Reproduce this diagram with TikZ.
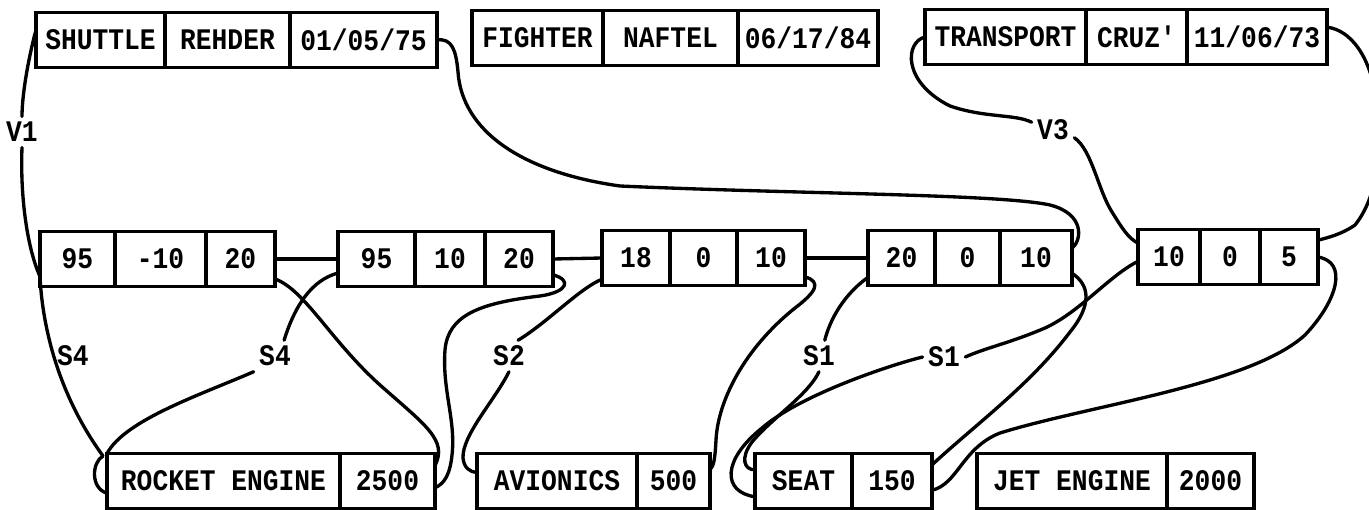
\documentclass[tikz,border=0pt]{standalone}
\usepackage{fontspec}
\newfontfamily\recfont{Liberation Mono}[FakeStretch=0.88]
\usetikzlibrary{positioning}

\begin{document}
\begin{tikzpicture}[x=0.02cm,y=-0.02cm,cell/.style={draw,line width=1.8pt,minimum width=#1*0.02cm,minimum height=1.1cm,inner sep=0pt,outer sep=0pt,font=\recfont\bfseries\fontsize{17}{19}\selectfont},tag/.style={inner sep=3pt,font=\recfont\bfseries\fontsize{17}{19}\selectfont},wire/.style={line width=1.9pt,line cap=round,line join=round}]
\useasboundingbox (0,0) rectangle (1369,510);
\node[cell=129,anchor=west] (shA) at (36,40) {SHUTTLE};
\node[cell=125,right=0pt of shA] (shB) {REHDER};
\node[cell=147,right=0pt of shB] (shC) {01/05/75};
\node[cell=131,anchor=west] (fiA) at (472,38) {FIGHTER};
\node[cell=135,right=0pt of fiA] (fiB) {NAFTEL};
\node[cell=140,right=0pt of fiB] (fiC) {06/17/84};
\node[cell=161,anchor=west] (trA) at (925,37) {TRANSPORT};
\node[cell=101,right=0pt of trA] (trB) {CRUZ'};
\node[cell=140,right=0pt of trB] (trC) {11/06/73};
\node[cell=75,anchor=west] (m1a) at (40,259) {95};
\node[cell=91,right=0pt of m1a] (m1b) {-10};
\node[cell=69,right=0pt of m1b] (m1c) {20};
\node[cell=77,anchor=west] (m2a) at (338,259) {95};
\node[cell=70,right=0pt of m2a] (m2b) {10};
\node[cell=68,right=0pt of m2b] (m2c) {20};
\node[cell=68,anchor=west] (m3a) at (602,258) {18};
\node[cell=67,right=0pt of m3a] (m3b) {0};
\node[cell=68,right=0pt of m3b] (m3c) {10};
\node[cell=67,anchor=west] (m4a) at (868,258) {20};
\node[cell=65,right=0pt of m4a] (m4b) {0};
\node[cell=72,right=0pt of m4b] (m4c) {10};
\node[cell=62,anchor=west] (m5a) at (1138,257) {10};
\node[cell=60,right=0pt of m5a] (m5b) {0};
\node[cell=58,right=0pt of m5b] (m5c) {5};
\node[cell=233,anchor=west] (reA) at (107,481) {ROCKET ENGINE};
\node[cell=95,right=0pt of reA] (reB) {2500};
\node[cell=160,anchor=west] (avA) at (477,481) {AVIONICS};
\node[cell=73,right=0pt of avA] (avB) {500};
\node[cell=97,anchor=west] (seA) at (755,481) {SEAT};
\node[cell=80,right=0pt of seA] (seB) {150};
\node[cell=190,anchor=west] (jeA) at (977,481) {JET ENGINE};
\node[cell=87,right=0pt of jeA] (jeB) {2000};
\node[tag] (lv1) at (22,132) {V1};
\node[tag] (lv3) at (1053,130) {V3};
\node[tag] (ls4a) at (73,356) {S4};
\node[tag] (ls4b) at (275,356) {S4};
\node[tag] (ls2) at (509,356) {S2};
\node[tag] (ls1a) at (819,356) {S1};
\node[tag] (ls1b) at (944,357) {S1};
\draw[wire] (m1c.east) -- (m2a.west);
\draw[wire] (m2c.east) -- (m3a.west);
\draw[wire] (m3c.east) -- (m4a.west);
\draw[wire] (shA.171) .. controls (28,60) and (22,95) .. (lv1.north);
\draw[wire] (lv1.south) .. controls (20,200) and (28,250) .. (m1a.205);
\draw[wire] (m1a.205) .. controls (42,320) and (55,390) .. (103,456) .. controls (92,462) and (90,488) .. (reA.186);
\draw[wire] (m2a.200) .. controls (312,280) and (295,305) .. (ls4b.60);
\draw[wire] (ls4b.south west) .. controls (200,395) and (125,420) .. (reA.north west);
\draw[wire] (m1c.-30) .. controls (305,290) and (330,340) .. (380,385) .. controls (425,425) and (448,440) .. (reB.18);
\draw[wire] (m2c.-25) .. controls (572,280) and (568,292) .. (540,296) .. controls (480,303) and (448,315) .. (445,350) .. controls (442,390) and (456,420) .. (452,455) .. controls (450,475) and (444,484) .. (reB.-8);
\draw[wire] (m3a.212) .. controls (580,288) and (548,322) .. (ls2.60);
\draw[wire] (ls2.south) .. controls (495,400) and (462,435) .. (463,458) .. controls (464,468) and (470,472) .. (avA.174);
\draw[wire] (m3c.-29) .. controls (822,282) and (816,292) .. (795,308) .. controls (745,348) and (718,400) .. (716,440) .. controls (715,458) and (714,466) .. (avB.17);
\draw[wire] (m4a.210) .. controls (850,290) and (832,312) .. (ls1a.70);
\draw[wire] (ls1a.south) .. controls (808,395) and (772,418) .. (752,442) .. controls (740,458) and (744,470) .. (seA.167);
\draw[wire] (m5a.188) .. controls (1110,275) and (1080,312) .. (1045,328) .. controls (1010,343) and (985,348) .. (ls1b.east);
\draw[wire] (ls1b.west) .. controls (890,365) and (800,395) .. (762,428) .. controls (722,460) and (722,492) .. (seA.198);
\draw[wire] (m4c.-23) .. controls (1090,285) and (1092,305) .. (1070,332) .. controls (1030,385) and (975,425) .. (seB.22);
\draw[wire] (m5c.east) .. controls (1348,262) and (1338,300) .. (1305,335) .. controls (1250,385) and (1090,405) .. (1000,433) .. controls (962,448) and (958,484) .. (seB.-13);
\draw[wire] (shC.east) .. controls (452,38) and (456,50) .. (458,72) .. controls (462,130) and (520,172) .. (620,186) .. controls (800,194) and (1000,194) .. (1050,205) .. controls (1085,214) and (1082,240) .. (m4c.15);
\draw[wire] (trA.west) .. controls (905,42) and (902,82) .. (950,106) .. controls (985,118) and (1015,114) .. (lv3.160);
\draw[wire] (lv3.-20) .. controls (1092,150) and (1098,190) .. (1112,212) .. controls (1122,228) and (1128,238) .. (m5a.156);
\draw[wire] (trC.8) .. controls (1350,30) and (1372,55) .. (1378,110) .. controls (1382,160) and (1375,200) .. (1355,225) .. controls (1342,234) and (1330,237) .. (m5c.30);
\end{tikzpicture}
\end{document}
